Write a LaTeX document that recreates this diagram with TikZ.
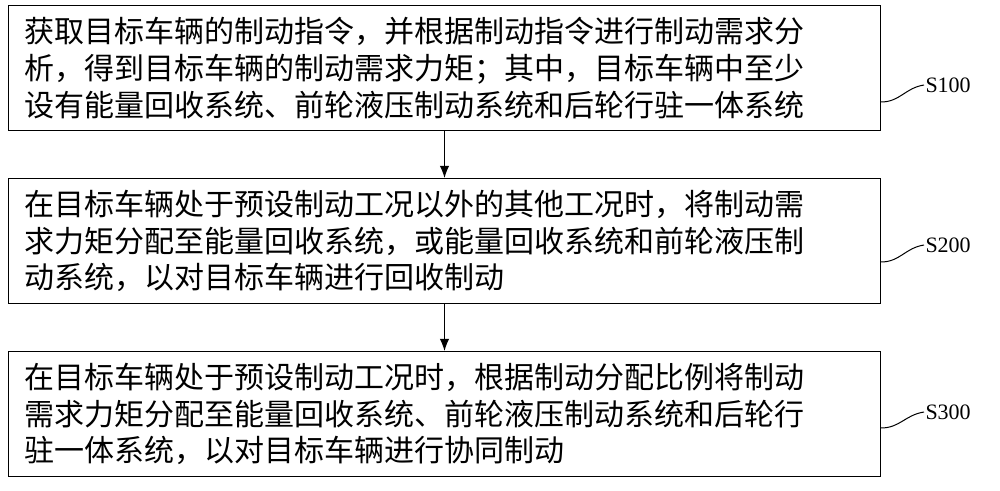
\documentclass[tikz,border=0pt]{standalone}
\usepackage{fontspec}
\setmainfont{Liberation Serif}
\newfontfamily\cjk{Noto Sans CJK SC}
\usetikzlibrary{positioning,arrows.meta}
\tikzset{every picture/.style={line width=0.75pt}}
\tikzset{
  stepbox/.style={draw, anchor=north west, minimum width=654pt, minimum height=94pt,
    inner sep=0pt, align=left, font=\cjk\fontsize{22.5}{27.5}\selectfont},
  steplabel/.style={anchor=west, inner sep=0.75pt, font=\fontsize{16.5}{20}\selectfont}
}
\begin{document}
\begin{tikzpicture}[x=0.75pt,y=0.75pt,yscale=-1,xscale=1]
    \useasboundingbox (0,0) rectangle (1000,491);

    % Boxes
    \node[stepbox] (b1) at (8,5) {\hspace*{10pt}\parbox{640pt}{获取目标车辆的制动指令，并根据制动指令进行制动需求分\\析，得到目标车辆的制动需求力矩；其中，目标车辆中至少\\设有能量回收系统、前轮液压制动系统和后轮行驻一体系统}};
    \node[stepbox] (b2) at (8,178) {\hspace*{10pt}\parbox{640pt}{在目标车辆处于预设制动工况以外的其他工况时，将制动需\\求力矩分配至能量回收系统，或能量回收系统和前轮液压制\\动系统，以对目标车辆进行回收制动}};
    \node[stepbox] (b3) at (8,351) {\hspace*{10pt}\parbox{640pt}{在目标车辆处于预设制动工况时，根据制动分配比例将制动\\需求力矩分配至能量回收系统、前轮液压制动系统和后轮行\\驻一体系统，以对目标车辆进行协同制动}};

    % Arrows
    \draw[-{Latex[length=9pt,width=7pt]}] (b1.south) -- (b2.north);
    \draw[-{Latex[length=9pt,width=7pt]}] (b3.north |- b2.south) -- (b3.north);

    % Labels
    \node[steplabel] (s1) at (924,85) {S100};
    \node[steplabel] (s2) at (924,245) {S200};
    \node[steplabel] (s3) at (924,412) {S300};

    % Leaders
    \coordinate (e1) at (b1.east |- 0,102);
    \coordinate (e2) at (b2.east |- 0,262);
    \coordinate (e3) at (b3.east |- 0,428);
    \draw (e1) .. controls (900,102) and (905,88) .. (s1.west);
    \draw (e2) .. controls (900,262) and (905,248) .. (s2.west);
    \draw (e3) .. controls (900,428) and (905,415) .. (s3.west);
\end{tikzpicture}
\end{document}
